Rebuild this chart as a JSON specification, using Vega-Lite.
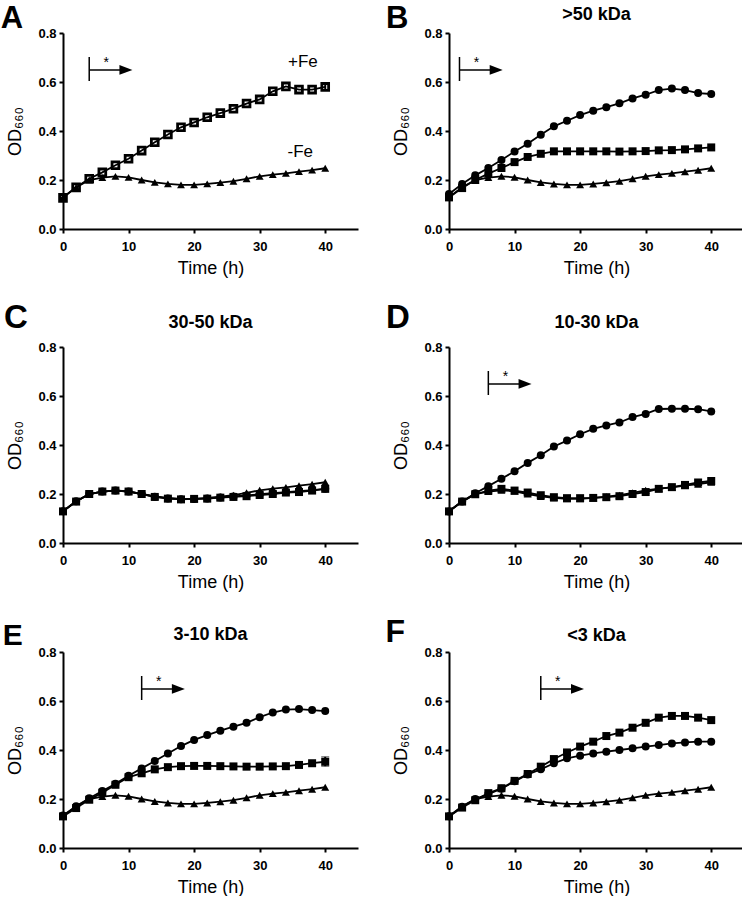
{
  "$schema": "https://vega.github.io/schema/vega-lite/v6.json",
  "padding": {"top": 3, "left": 0, "right": 0, "bottom": 0},
  "background": "white",
  "columns": 2,
  "spacing": {"row": 25, "column": 27},
  "datasets": {
    "growth": [
      {"p":"all","s":"triangle","t":0,"od":0.13},{"p":"all","s":"triangle","t":2,"od":0.17},{"p":"all","s":"triangle","t":4,"od":0.2},{"p":"all","s":"triangle","t":6,"od":0.21},{"p":"all","s":"triangle","t":8,"od":0.215},{"p":"all","s":"triangle","t":10,"od":0.211},{"p":"all","s":"triangle","t":12,"od":0.2},{"p":"all","s":"triangle","t":14,"od":0.19},{"p":"all","s":"triangle","t":16,"od":0.184},{"p":"all","s":"triangle","t":18,"od":0.18},{"p":"all","s":"triangle","t":20,"od":0.18},{"p":"all","s":"triangle","t":22,"od":0.184},{"p":"all","s":"triangle","t":24,"od":0.189},{"p":"all","s":"triangle","t":26,"od":0.195},{"p":"all","s":"triangle","t":28,"od":0.205},{"p":"all","s":"triangle","t":30,"od":0.215},{"p":"all","s":"triangle","t":32,"od":0.222},{"p":"all","s":"triangle","t":34,"od":0.227},{"p":"all","s":"triangle","t":36,"od":0.234},{"p":"all","s":"triangle","t":38,"od":0.24},{"p":"all","s":"triangle","t":40,"od":0.248},
      {"p":"A","s":"open","t":0,"od":0.127},{"p":"A","s":"open","t":2,"od":0.17},{"p":"A","s":"open","t":4,"od":0.205},{"p":"A","s":"open","t":6,"od":0.231},{"p":"A","s":"open","t":8,"od":0.26},{"p":"A","s":"open","t":10,"od":0.287},{"p":"A","s":"open","t":12,"od":0.32},{"p":"A","s":"open","t":14,"od":0.354},{"p":"A","s":"open","t":16,"od":0.386},{"p":"A","s":"open","t":18,"od":0.415},{"p":"A","s":"open","t":20,"od":0.435},{"p":"A","s":"open","t":22,"od":0.456},{"p":"A","s":"open","t":24,"od":0.473},{"p":"A","s":"open","t":26,"od":0.491},{"p":"A","s":"open","t":28,"od":0.512},{"p":"A","s":"open","t":30,"od":0.529},{"p":"A","s":"open","t":32,"od":0.562},{"p":"A","s":"open","t":34,"od":0.582},{"p":"A","s":"open","t":36,"od":0.569},{"p":"A","s":"open","t":38,"od":0.569},{"p":"A","s":"open","t":40,"od":0.58},
      {"p":"B","s":"circle","t":0,"od":0.143},{"p":"B","s":"circle","t":2,"od":0.184},{"p":"B","s":"circle","t":4,"od":0.219},{"p":"B","s":"circle","t":6,"od":0.249},{"p":"B","s":"circle","t":8,"od":0.282},{"p":"B","s":"circle","t":10,"od":0.316},{"p":"B","s":"circle","t":12,"od":0.348},{"p":"B","s":"circle","t":14,"od":0.385},{"p":"B","s":"circle","t":16,"od":0.419},{"p":"B","s":"circle","t":18,"od":0.442},{"p":"B","s":"circle","t":20,"od":0.465},{"p":"B","s":"circle","t":22,"od":0.483},{"p":"B","s":"circle","t":24,"od":0.497},{"p":"B","s":"circle","t":26,"od":0.513},{"p":"B","s":"circle","t":28,"od":0.533},{"p":"B","s":"circle","t":30,"od":0.548},{"p":"B","s":"circle","t":32,"od":0.567},{"p":"B","s":"circle","t":34,"od":0.573},{"p":"B","s":"circle","t":36,"od":0.567},{"p":"B","s":"circle","t":38,"od":0.555},{"p":"B","s":"circle","t":40,"od":0.551},
      {"p":"B","s":"square","t":0,"od":0.129},{"p":"B","s":"square","t":2,"od":0.167},{"p":"B","s":"square","t":4,"od":0.2},{"p":"B","s":"square","t":6,"od":0.226},{"p":"B","s":"square","t":8,"od":0.249},{"p":"B","s":"square","t":10,"od":0.273},{"p":"B","s":"square","t":12,"od":0.294},{"p":"B","s":"square","t":14,"od":0.307},{"p":"B","s":"square","t":16,"od":0.317},{"p":"B","s":"square","t":18,"od":0.317},{"p":"B","s":"square","t":20,"od":0.317},{"p":"B","s":"square","t":22,"od":0.317},{"p":"B","s":"square","t":24,"od":0.317},{"p":"B","s":"square","t":26,"od":0.316},{"p":"B","s":"square","t":28,"od":0.317},{"p":"B","s":"square","t":30,"od":0.318},{"p":"B","s":"square","t":32,"od":0.321},{"p":"B","s":"square","t":34,"od":0.322},{"p":"B","s":"square","t":36,"od":0.325},{"p":"B","s":"square","t":38,"od":0.329},{"p":"B","s":"square","t":40,"od":0.333},
      {"p":"C","s":"circle","t":0,"od":0.13},{"p":"C","s":"circle","t":2,"od":0.17},{"p":"C","s":"circle","t":4,"od":0.2},{"p":"C","s":"circle","t":6,"od":0.21},{"p":"C","s":"circle","t":8,"od":0.214},{"p":"C","s":"circle","t":10,"od":0.21},{"p":"C","s":"circle","t":12,"od":0.2},{"p":"C","s":"circle","t":14,"od":0.189},{"p":"C","s":"circle","t":16,"od":0.182},{"p":"C","s":"circle","t":18,"od":0.179},{"p":"C","s":"circle","t":20,"od":0.18},{"p":"C","s":"circle","t":22,"od":0.182},{"p":"C","s":"circle","t":24,"od":0.186},{"p":"C","s":"circle","t":26,"od":0.19},{"p":"C","s":"circle","t":28,"od":0.194},{"p":"C","s":"circle","t":30,"od":0.199},{"p":"C","s":"circle","t":32,"od":0.203},{"p":"C","s":"circle","t":34,"od":0.208},{"p":"C","s":"circle","t":36,"od":0.212},{"p":"C","s":"circle","t":38,"od":0.216},{"p":"C","s":"circle","t":40,"od":0.221},
      {"p":"C","s":"square","t":0,"od":0.129},{"p":"C","s":"square","t":2,"od":0.169},{"p":"C","s":"square","t":4,"od":0.2},{"p":"C","s":"square","t":6,"od":0.21},{"p":"C","s":"square","t":8,"od":0.214},{"p":"C","s":"square","t":10,"od":0.21},{"p":"C","s":"square","t":12,"od":0.2},{"p":"C","s":"square","t":14,"od":0.188},{"p":"C","s":"square","t":16,"od":0.181},{"p":"C","s":"square","t":18,"od":0.178},{"p":"C","s":"square","t":20,"od":0.18},{"p":"C","s":"square","t":22,"od":0.181},{"p":"C","s":"square","t":24,"od":0.185},{"p":"C","s":"square","t":26,"od":0.188},{"p":"C","s":"square","t":28,"od":0.191},{"p":"C","s":"square","t":30,"od":0.196},{"p":"C","s":"square","t":32,"od":0.2},{"p":"C","s":"square","t":34,"od":0.206},{"p":"C","s":"square","t":36,"od":0.208},{"p":"C","s":"square","t":38,"od":0.214},{"p":"C","s":"square","t":40,"od":0.221},
      {"p":"D","s":"circle","t":0,"od":0.129},{"p":"D","s":"circle","t":2,"od":0.169},{"p":"D","s":"circle","t":4,"od":0.203},{"p":"D","s":"circle","t":6,"od":0.232},{"p":"D","s":"circle","t":8,"od":0.262},{"p":"D","s":"circle","t":10,"od":0.293},{"p":"D","s":"circle","t":12,"od":0.327},{"p":"D","s":"circle","t":14,"od":0.358},{"p":"D","s":"circle","t":16,"od":0.394},{"p":"D","s":"circle","t":18,"od":0.418},{"p":"D","s":"circle","t":20,"od":0.444},{"p":"D","s":"circle","t":22,"od":0.466},{"p":"D","s":"circle","t":24,"od":0.48},{"p":"D","s":"circle","t":26,"od":0.492},{"p":"D","s":"circle","t":28,"od":0.514},{"p":"D","s":"circle","t":30,"od":0.527},{"p":"D","s":"circle","t":32,"od":0.547},{"p":"D","s":"circle","t":34,"od":0.548},{"p":"D","s":"circle","t":36,"od":0.548},{"p":"D","s":"circle","t":38,"od":0.546},{"p":"D","s":"circle","t":40,"od":0.537},
      {"p":"D","s":"square","t":0,"od":0.129},{"p":"D","s":"square","t":2,"od":0.169},{"p":"D","s":"square","t":4,"od":0.199},{"p":"D","s":"square","t":6,"od":0.214},{"p":"D","s":"square","t":8,"od":0.221},{"p":"D","s":"square","t":10,"od":0.214},{"p":"D","s":"square","t":12,"od":0.206},{"p":"D","s":"square","t":14,"od":0.195},{"p":"D","s":"square","t":16,"od":0.187},{"p":"D","s":"square","t":18,"od":0.183},{"p":"D","s":"square","t":20,"od":0.183},{"p":"D","s":"square","t":22,"od":0.184},{"p":"D","s":"square","t":24,"od":0.187},{"p":"D","s":"square","t":26,"od":0.191},{"p":"D","s":"square","t":28,"od":0.2},{"p":"D","s":"square","t":30,"od":0.208},{"p":"D","s":"square","t":32,"od":0.221},{"p":"D","s":"square","t":34,"od":0.228},{"p":"D","s":"square","t":36,"od":0.237},{"p":"D","s":"square","t":38,"od":0.247},{"p":"D","s":"square","t":40,"od":0.253},
      {"p":"E","s":"circle","t":0,"od":0.133},{"p":"E","s":"circle","t":2,"od":0.17},{"p":"E","s":"circle","t":4,"od":0.203},{"p":"E","s":"circle","t":6,"od":0.233},{"p":"E","s":"circle","t":8,"od":0.262},{"p":"E","s":"circle","t":10,"od":0.295},{"p":"E","s":"circle","t":12,"od":0.325},{"p":"E","s":"circle","t":14,"od":0.355},{"p":"E","s":"circle","t":16,"od":0.386},{"p":"E","s":"circle","t":18,"od":0.416},{"p":"E","s":"circle","t":20,"od":0.441},{"p":"E","s":"circle","t":22,"od":0.461},{"p":"E","s":"circle","t":24,"od":0.479},{"p":"E","s":"circle","t":26,"od":0.495},{"p":"E","s":"circle","t":28,"od":0.511},{"p":"E","s":"circle","t":30,"od":0.534},{"p":"E","s":"circle","t":32,"od":0.553},{"p":"E","s":"circle","t":34,"od":0.565},{"p":"E","s":"circle","t":36,"od":0.567},{"p":"E","s":"circle","t":38,"od":0.563},{"p":"E","s":"circle","t":40,"od":0.559},
      {"p":"E","s":"square","t":0,"od":0.129},{"p":"E","s":"square","t":2,"od":0.163},{"p":"E","s":"square","t":4,"od":0.197},{"p":"E","s":"square","t":6,"od":0.226},{"p":"E","s":"square","t":8,"od":0.258},{"p":"E","s":"square","t":10,"od":0.289},{"p":"E","s":"square","t":12,"od":0.305},{"p":"E","s":"square","t":14,"od":0.321},{"p":"E","s":"square","t":16,"od":0.33},{"p":"E","s":"square","t":18,"od":0.334},{"p":"E","s":"square","t":20,"od":0.335},{"p":"E","s":"square","t":22,"od":0.335},{"p":"E","s":"square","t":24,"od":0.334},{"p":"E","s":"square","t":26,"od":0.333},{"p":"E","s":"square","t":28,"od":0.332},{"p":"E","s":"square","t":30,"od":0.332},{"p":"E","s":"square","t":32,"od":0.333},{"p":"E","s":"square","t":34,"od":0.334},{"p":"E","s":"square","t":36,"od":0.339},{"p":"E","s":"square","t":38,"od":0.346},{"p":"E","s":"square","t":40,"od":0.352},
      {"p":"F","s":"circle","t":0,"od":0.13},{"p":"F","s":"circle","t":2,"od":0.168},{"p":"F","s":"circle","t":4,"od":0.2},{"p":"F","s":"circle","t":6,"od":0.22},{"p":"F","s":"circle","t":8,"od":0.242},{"p":"F","s":"circle","t":10,"od":0.272},{"p":"F","s":"circle","t":12,"od":0.3},{"p":"F","s":"circle","t":14,"od":0.321},{"p":"F","s":"circle","t":16,"od":0.346},{"p":"F","s":"circle","t":18,"od":0.366},{"p":"F","s":"circle","t":20,"od":0.377},{"p":"F","s":"circle","t":22,"od":0.386},{"p":"F","s":"circle","t":24,"od":0.393},{"p":"F","s":"circle","t":26,"od":0.4},{"p":"F","s":"circle","t":28,"od":0.407},{"p":"F","s":"circle","t":30,"od":0.414},{"p":"F","s":"circle","t":32,"od":0.42},{"p":"F","s":"circle","t":34,"od":0.427},{"p":"F","s":"circle","t":36,"od":0.431},{"p":"F","s":"circle","t":38,"od":0.434},{"p":"F","s":"circle","t":40,"od":0.434},
      {"p":"F","s":"square","t":0,"od":0.129},{"p":"F","s":"square","t":2,"od":0.165},{"p":"F","s":"square","t":4,"od":0.195},{"p":"F","s":"square","t":6,"od":0.224},{"p":"F","s":"square","t":8,"od":0.244},{"p":"F","s":"square","t":10,"od":0.274},{"p":"F","s":"square","t":12,"od":0.302},{"p":"F","s":"square","t":14,"od":0.332},{"p":"F","s":"square","t":16,"od":0.363},{"p":"F","s":"square","t":18,"od":0.39},{"p":"F","s":"square","t":20,"od":0.414},{"p":"F","s":"square","t":22,"od":0.434},{"p":"F","s":"square","t":24,"od":0.457},{"p":"F","s":"square","t":26,"od":0.471},{"p":"F","s":"square","t":28,"od":0.491},{"p":"F","s":"square","t":30,"od":0.511},{"p":"F","s":"square","t":32,"od":0.532},{"p":"F","s":"square","t":34,"od":0.539},{"p":"F","s":"square","t":36,"od":0.539},{"p":"F","s":"square","t":38,"od":0.532},{"p":"F","s":"square","t":40,"od":0.522}
    ],
    "errors": [
      {"p":"A","t":40,"lo":0.566,"hi":0.596},
      {"p":"E","t":40,"lo":0.334,"hi":0.372}
    ],
    "arrows": [
      {"p":"A","from":4,"star":6.6,"to":9.6},
      {"p":"B","from":1.6,"star":4.2,"to":7.2},
      {"p":"D","from":6,"star":8.6,"to":11.6},
      {"p":"E","from":12,"star":14.6,"to":17.6},
      {"p":"F","from":14,"star":16.6,"to":19.6}
    ],
    "panels": [
      {"p":"A","letter":"A","title":""},
      {"p":"B","letter":"B","title":">50 kDa"},
      {"p":"C","letter":"C","title":"30-50 kDa"},
      {"p":"D","letter":"D","title":"10-30 kDa"},
      {"p":"E","letter":"E","title":"3-10 kDa"},
      {"p":"F","letter":"F","title":"<3 kDa"}
    ],
    "labels": [
      {"p":"A","label":"+Fe"},
      {"p":"A","label":"-Fe"}
    ]
  },
  "concat": [
    {
      "width": 295, "height": 196,
      "layer": [
        {"data":{"name":"growth"},"transform":[{"filter":"datum.p=='A'||datum.p=='all'"}],"mark":{"type":"line","color":"black","strokeWidth":1.8},"encoding":{"x":{"field":"t","type":"quantitative","title":"Time (h)","scale":{"domain":[0,45],"nice":false,"zero":false},"axis":{"values":[0,10,20,30,40]}},"y":{"field":"od","type":"quantitative","title":"OD₆₆₀","scale":{"domain":[0,0.8],"nice":false},"axis":{"values":[0,0.2,0.4,0.6,0.8],"format":".1f"}},"detail":{"field":"s"}}},
        {"data":{"name":"errors"},"transform":[{"filter":"datum.p=='A'"}],"mark":{"type":"errorbar","ticks":{"size":8,"color":"black","strokeWidth":2},"rule":{"color":"black","strokeWidth":2}},"encoding":{"x":{"field":"t","type":"quantitative","title":"Time (h)"},"y":{"field":"lo","type":"quantitative","title":"OD₆₆₀"},"y2":{"field":"hi","title":"OD₆₆₀"}}},
        {"data":{"name":"growth"},"transform":[{"filter":"datum.p=='all'"}],"mark":{"type":"point","shape":"triangle-up","filled":true,"color":"black","opacity":1,"size":62},"encoding":{"x":{"field":"t","type":"quantitative","title":"Time (h)"},"y":{"field":"od","type":"quantitative","title":"OD₆₆₀"}}},
        {"data":{"name":"growth"},"transform":[{"filter":"datum.p=='A'"}],"mark":{"type":"point","shape":"square","filled":false,"stroke":"black","strokeWidth":2.8,"opacity":1,"size":46},"encoding":{"x":{"field":"t","type":"quantitative","title":"Time (h)"},"y":{"field":"od","type":"quantitative","title":"OD₆₆₀"}}},
        {"data":{"name":"labels"},"transform":[{"filter":"datum.label=='+Fe'"}],"mark":{"type":"text","fontSize":17,"align":"center","baseline":"middle"},"encoding":{"text":{"field":"label"},"x":{"datum":36.6},"y":{"datum":0.682}}},
        {"data":{"name":"labels"},"transform":[{"filter":"datum.label=='-Fe'"}],"mark":{"type":"text","fontSize":17,"align":"center","baseline":"middle"},"encoding":{"text":{"field":"label"},"x":{"datum":36.2},"y":{"datum":0.314}}},
        {"data":{"name":"arrows"},"transform":[{"filter":"datum.p=='A'"}],"mark":{"type":"rule","color":"black","strokeWidth":1.5},"encoding":{"x":{"field":"from","type":"quantitative","title":"Time (h)"},"y":{"datum":0.604},"y2":{"datum":0.702}}},
        {"data":{"name":"arrows"},"transform":[{"filter":"datum.p=='A'"}],"mark":{"type":"rule","color":"black","strokeWidth":1.5},"encoding":{"x":{"field":"from","type":"quantitative","title":"Time (h)"},"x2":{"field":"to","title":"Time (h)"},"y":{"datum":0.649}}},
        {"data":{"name":"arrows"},"transform":[{"filter":"datum.p=='A'"}],"mark":{"type":"point","shape":"M-1,-0.75L1,0L-1,0.75Z","filled":true,"color":"black","opacity":1,"size":169},"encoding":{"x":{"field":"to","type":"quantitative","title":"Time (h)"},"y":{"datum":0.649}}},
        {"data":{"name":"arrows"},"transform":[{"filter":"datum.p=='A'"}],"mark":{"type":"text","text":"*","fontSize":14,"align":"center","baseline":"alphabetic"},"encoding":{"x":{"field":"star","type":"quantitative","title":"Time (h)"},"y":{"datum":0.66}}},
        {"data":{"name":"panels"},"transform":[{"filter":"datum.p=='A'"}],"mark":{"type":"text","fontSize":31,"fontWeight":"bold","align":"left","baseline":"alphabetic"},"encoding":{"text":{"field":"letter"},"x":{"datum":-9.5},"y":{"datum":0.8204}}}
      ]
    },
    {
      "width": 295, "height": 196,
      "layer": [
        {"data":{"name":"growth"},"transform":[{"filter":"datum.p=='B'||datum.p=='all'"}],"mark":{"type":"line","color":"black","strokeWidth":1.8},"encoding":{"x":{"field":"t","type":"quantitative","title":"Time (h)","scale":{"domain":[0,45],"nice":false,"zero":false},"axis":{"values":[0,10,20,30,40]}},"y":{"field":"od","type":"quantitative","title":"OD₆₆₀","scale":{"domain":[0,0.8],"nice":false},"axis":{"values":[0,0.2,0.4,0.6,0.8],"format":".1f"}},"detail":{"field":"s"}}},
        {"data":{"name":"growth"},"transform":[{"filter":"datum.p=='B'||datum.p=='all'"}],"mark":{"type":"point","filled":true,"color":"black","opacity":1,"size":64},"encoding":{"x":{"field":"t","type":"quantitative","title":"Time (h)"},"y":{"field":"od","type":"quantitative","title":"OD₆₆₀"},"shape":{"field":"s","type":"nominal","scale":{"domain":["circle","square","triangle"],"range":["circle","square","triangle-up"]},"legend":null}}},
        {"data":{"name":"arrows"},"transform":[{"filter":"datum.p=='B'"}],"mark":{"type":"rule","color":"black","strokeWidth":1.5},"encoding":{"x":{"field":"from","type":"quantitative","title":"Time (h)"},"y":{"datum":0.604},"y2":{"datum":0.702}}},
        {"data":{"name":"arrows"},"transform":[{"filter":"datum.p=='B'"}],"mark":{"type":"rule","color":"black","strokeWidth":1.5},"encoding":{"x":{"field":"from","type":"quantitative","title":"Time (h)"},"x2":{"field":"to","title":"Time (h)"},"y":{"datum":0.649}}},
        {"data":{"name":"arrows"},"transform":[{"filter":"datum.p=='B'"}],"mark":{"type":"point","shape":"M-1,-0.75L1,0L-1,0.75Z","filled":true,"color":"black","opacity":1,"size":169},"encoding":{"x":{"field":"to","type":"quantitative","title":"Time (h)"},"y":{"datum":0.649}}},
        {"data":{"name":"arrows"},"transform":[{"filter":"datum.p=='B'"}],"mark":{"type":"text","text":"*","fontSize":14,"align":"center","baseline":"alphabetic"},"encoding":{"x":{"field":"star","type":"quantitative","title":"Time (h)"},"y":{"datum":0.66}}},
        {"data":{"name":"panels"},"transform":[{"filter":"datum.p=='B'"}],"mark":{"type":"text","fontSize":31,"fontWeight":"bold","align":"left","baseline":"alphabetic"},"encoding":{"text":{"field":"letter"},"x":{"datum":-9.6},"y":{"datum":0.8204}}},
        {"data":{"name":"panels"},"transform":[{"filter":"datum.p=='B'"}],"mark":{"type":"text","fontSize":18,"fontWeight":"bold","align":"center","baseline":"middle"},"encoding":{"text":{"field":"title"},"x":{"datum":22.5},"y":{"datum":0.875}}}
      ]
    },
    {
      "width": 295, "height": 196,
      "layer": [
        {"data":{"name":"growth"},"transform":[{"filter":"datum.p=='C'||datum.p=='all'"}],"mark":{"type":"line","color":"black","strokeWidth":1.8},"encoding":{"x":{"field":"t","type":"quantitative","title":"Time (h)","scale":{"domain":[0,45],"nice":false,"zero":false},"axis":{"values":[0,10,20,30,40]}},"y":{"field":"od","type":"quantitative","title":"OD₆₆₀","scale":{"domain":[0,0.8],"nice":false},"axis":{"values":[0,0.2,0.4,0.6,0.8],"format":".1f"}},"detail":{"field":"s"}}},
        {"data":{"name":"growth"},"transform":[{"filter":"datum.p=='C'||datum.p=='all'"}],"mark":{"type":"point","filled":true,"color":"black","opacity":1,"size":64},"encoding":{"x":{"field":"t","type":"quantitative","title":"Time (h)"},"y":{"field":"od","type":"quantitative","title":"OD₆₆₀"},"shape":{"field":"s","type":"nominal","scale":{"domain":["circle","square","triangle"],"range":["circle","square","triangle-up"]},"legend":null}}},
        {"data":{"name":"panels"},"transform":[{"filter":"datum.p=='C'"}],"mark":{"type":"text","fontSize":33,"fontWeight":"bold","align":"left","baseline":"alphabetic"},"encoding":{"text":{"field":"letter"},"x":{"datum":-9.0},"y":{"datum":0.876}}},
        {"data":{"name":"panels"},"transform":[{"filter":"datum.p=='C'"}],"mark":{"type":"text","fontSize":18,"fontWeight":"bold","align":"center","baseline":"middle"},"encoding":{"text":{"field":"title"},"x":{"datum":22.5},"y":{"datum":0.9}}}
      ]
    },
    {
      "width": 295, "height": 196,
      "layer": [
        {"data":{"name":"growth"},"transform":[{"filter":"datum.p=='D'||datum.p=='all'"}],"mark":{"type":"line","color":"black","strokeWidth":1.8},"encoding":{"x":{"field":"t","type":"quantitative","title":"Time (h)","scale":{"domain":[0,45],"nice":false,"zero":false},"axis":{"values":[0,10,20,30,40]}},"y":{"field":"od","type":"quantitative","title":"OD₆₆₀","scale":{"domain":[0,0.8],"nice":false},"axis":{"values":[0,0.2,0.4,0.6,0.8],"format":".1f"}},"detail":{"field":"s"}}},
        {"data":{"name":"growth"},"transform":[{"filter":"datum.p=='D'||datum.p=='all'"}],"mark":{"type":"point","filled":true,"color":"black","opacity":1,"size":64},"encoding":{"x":{"field":"t","type":"quantitative","title":"Time (h)"},"y":{"field":"od","type":"quantitative","title":"OD₆₆₀"},"shape":{"field":"s","type":"nominal","scale":{"domain":["circle","square","triangle"],"range":["circle","square","triangle-up"]},"legend":null}}},
        {"data":{"name":"arrows"},"transform":[{"filter":"datum.p=='D'"}],"mark":{"type":"rule","color":"black","strokeWidth":1.5},"encoding":{"x":{"field":"from","type":"quantitative","title":"Time (h)"},"y":{"datum":0.604},"y2":{"datum":0.702}}},
        {"data":{"name":"arrows"},"transform":[{"filter":"datum.p=='D'"}],"mark":{"type":"rule","color":"black","strokeWidth":1.5},"encoding":{"x":{"field":"from","type":"quantitative","title":"Time (h)"},"x2":{"field":"to","title":"Time (h)"},"y":{"datum":0.649}}},
        {"data":{"name":"arrows"},"transform":[{"filter":"datum.p=='D'"}],"mark":{"type":"point","shape":"M-1,-0.75L1,0L-1,0.75Z","filled":true,"color":"black","opacity":1,"size":169},"encoding":{"x":{"field":"to","type":"quantitative","title":"Time (h)"},"y":{"datum":0.649}}},
        {"data":{"name":"arrows"},"transform":[{"filter":"datum.p=='D'"}],"mark":{"type":"text","text":"*","fontSize":14,"align":"center","baseline":"alphabetic"},"encoding":{"x":{"field":"star","type":"quantitative","title":"Time (h)"},"y":{"datum":0.66}}},
        {"data":{"name":"panels"},"transform":[{"filter":"datum.p=='D'"}],"mark":{"type":"text","fontSize":33,"fontWeight":"bold","align":"left","baseline":"alphabetic"},"encoding":{"text":{"field":"letter"},"x":{"datum":-9.6},"y":{"datum":0.876}}},
        {"data":{"name":"panels"},"transform":[{"filter":"datum.p=='D'"}],"mark":{"type":"text","fontSize":18,"fontWeight":"bold","align":"center","baseline":"middle"},"encoding":{"text":{"field":"title"},"x":{"datum":22.5},"y":{"datum":0.9}}}
      ]
    },
    {
      "width": 295, "height": 196,
      "layer": [
        {"data":{"name":"growth"},"transform":[{"filter":"datum.p=='E'||datum.p=='all'"}],"mark":{"type":"line","color":"black","strokeWidth":1.8},"encoding":{"x":{"field":"t","type":"quantitative","title":"Time (h)","scale":{"domain":[0,45],"nice":false,"zero":false},"axis":{"values":[0,10,20,30,40]}},"y":{"field":"od","type":"quantitative","title":"OD₆₆₀","scale":{"domain":[0,0.8],"nice":false},"axis":{"values":[0,0.2,0.4,0.6,0.8],"format":".1f"}},"detail":{"field":"s"}}},
        {"data":{"name":"errors"},"transform":[{"filter":"datum.p=='E'"}],"mark":{"type":"errorbar","ticks":{"size":8,"color":"black","strokeWidth":2},"rule":{"color":"black","strokeWidth":2}},"encoding":{"x":{"field":"t","type":"quantitative","title":"Time (h)"},"y":{"field":"lo","type":"quantitative","title":"OD₆₆₀"},"y2":{"field":"hi","title":"OD₆₆₀"}}},
        {"data":{"name":"growth"},"transform":[{"filter":"datum.p=='E'||datum.p=='all'"}],"mark":{"type":"point","filled":true,"color":"black","opacity":1,"size":64},"encoding":{"x":{"field":"t","type":"quantitative","title":"Time (h)"},"y":{"field":"od","type":"quantitative","title":"OD₆₆₀"},"shape":{"field":"s","type":"nominal","scale":{"domain":["circle","square","triangle"],"range":["circle","square","triangle-up"]},"legend":null}}},
        {"data":{"name":"arrows"},"transform":[{"filter":"datum.p=='E'"}],"mark":{"type":"rule","color":"black","strokeWidth":1.5},"encoding":{"x":{"field":"from","type":"quantitative","title":"Time (h)"},"y":{"datum":0.604},"y2":{"datum":0.702}}},
        {"data":{"name":"arrows"},"transform":[{"filter":"datum.p=='E'"}],"mark":{"type":"rule","color":"black","strokeWidth":1.5},"encoding":{"x":{"field":"from","type":"quantitative","title":"Time (h)"},"x2":{"field":"to","title":"Time (h)"},"y":{"datum":0.649}}},
        {"data":{"name":"arrows"},"transform":[{"filter":"datum.p=='E'"}],"mark":{"type":"point","shape":"M-1,-0.75L1,0L-1,0.75Z","filled":true,"color":"black","opacity":1,"size":169},"encoding":{"x":{"field":"to","type":"quantitative","title":"Time (h)"},"y":{"datum":0.649}}},
        {"data":{"name":"arrows"},"transform":[{"filter":"datum.p=='E'"}],"mark":{"type":"text","text":"*","fontSize":14,"align":"center","baseline":"alphabetic","color":"black"},"encoding":{"x":{"field":"star","type":"quantitative","title":"Time (h)"},"y":{"datum":0.66}}},
        {"data":{"name":"panels"},"transform":[{"filter":"datum.p=='E'"}],"mark":{"type":"text","fontSize":30,"fontWeight":"bold","align":"left","baseline":"alphabetic"},"encoding":{"text":{"field":"letter"},"x":{"datum":-9.2},"y":{"datum":0.83}}},
        {"data":{"name":"panels"},"transform":[{"filter":"datum.p=='E'"}],"mark":{"type":"text","fontSize":18,"fontWeight":"bold","align":"center","baseline":"middle"},"encoding":{"text":{"field":"title"},"x":{"datum":22.5},"y":{"datum":0.868}}}
      ]
    },
    {
      "width": 295, "height": 196,
      "layer": [
        {"data":{"name":"growth"},"transform":[{"filter":"datum.p=='F'||datum.p=='all'"}],"mark":{"type":"line","color":"black","strokeWidth":1.8},"encoding":{"x":{"field":"t","type":"quantitative","title":"Time (h)","scale":{"domain":[0,45],"nice":false,"zero":false},"axis":{"values":[0,10,20,30,40]}},"y":{"field":"od","type":"quantitative","title":"OD₆₆₀","scale":{"domain":[0,0.8],"nice":false},"axis":{"values":[0,0.2,0.4,0.6,0.8],"format":".1f"}},"detail":{"field":"s"}}},
        {"data":{"name":"growth"},"transform":[{"filter":"datum.p=='F'||datum.p=='all'"}],"mark":{"type":"point","filled":true,"color":"black","opacity":1,"size":64},"encoding":{"x":{"field":"t","type":"quantitative","title":"Time (h)"},"y":{"field":"od","type":"quantitative","title":"OD₆₆₀"},"shape":{"field":"s","type":"nominal","scale":{"domain":["circle","square","triangle"],"range":["circle","square","triangle-up"]},"legend":null}}},
        {"data":{"name":"arrows"},"transform":[{"filter":"datum.p=='F'"}],"mark":{"type":"rule","color":"black","strokeWidth":1.5},"encoding":{"x":{"field":"from","type":"quantitative","title":"Time (h)"},"y":{"datum":0.604},"y2":{"datum":0.702}}},
        {"data":{"name":"arrows"},"transform":[{"filter":"datum.p=='F'"}],"mark":{"type":"rule","color":"black","strokeWidth":1.5},"encoding":{"x":{"field":"from","type":"quantitative","title":"Time (h)"},"x2":{"field":"to","title":"Time (h)"},"y":{"datum":0.649}}},
        {"data":{"name":"arrows"},"transform":[{"filter":"datum.p=='F'"}],"mark":{"type":"point","shape":"M-1,-0.75L1,0L-1,0.75Z","filled":true,"color":"black","opacity":1,"size":169},"encoding":{"x":{"field":"to","type":"quantitative","title":"Time (h)"},"y":{"datum":0.649}}},
        {"data":{"name":"arrows"},"transform":[{"filter":"datum.p=='F'"}],"mark":{"type":"text","text":"*","fontSize":14,"align":"center","baseline":"alphabetic"},"encoding":{"x":{"field":"star","type":"quantitative","title":"Time (h)"},"y":{"datum":0.66}}},
        {"data":{"name":"panels"},"transform":[{"filter":"datum.p=='F'"}],"mark":{"type":"text","fontSize":32,"fontWeight":"bold","align":"left","baseline":"alphabetic"},"encoding":{"text":{"field":"letter"},"x":{"datum":-9.7},"y":{"datum":0.84}}},
        {"data":{"name":"panels"},"transform":[{"filter":"datum.p=='F'"}],"mark":{"type":"text","fontSize":18,"fontWeight":"bold","align":"center","baseline":"middle"},"encoding":{"text":{"field":"title"},"x":{"datum":22.5},"y":{"datum":0.866}}}
      ]
    }
  ],
  "config": {
    "view": {"stroke": null},
    "font": "Liberation Sans",
    "text": {"font": "Liberation Sans", "color": "black"},
    "axis": {
      "grid": false,
      "domainColor": "black", "domainWidth": 2,
      "tickColor": "black", "tickWidth": 2, "tickSize": 4,
      "labelFont": "Liberation Sans", "labelFontWeight": "bold", "labelFontSize": 13, "labelColor": "black",
      "labelPadding": 3, "labelFlush": false, "labelOverlap": false,
      "titleFont": "Liberation Sans", "titleFontWeight": "normal", "titleFontSize": 18, "titleColor": "black"
    },
    "axisX": {"labelPadding": 7, "titlePadding": 6},
    "axisY": {"titlePadding": 13}
  }
}
